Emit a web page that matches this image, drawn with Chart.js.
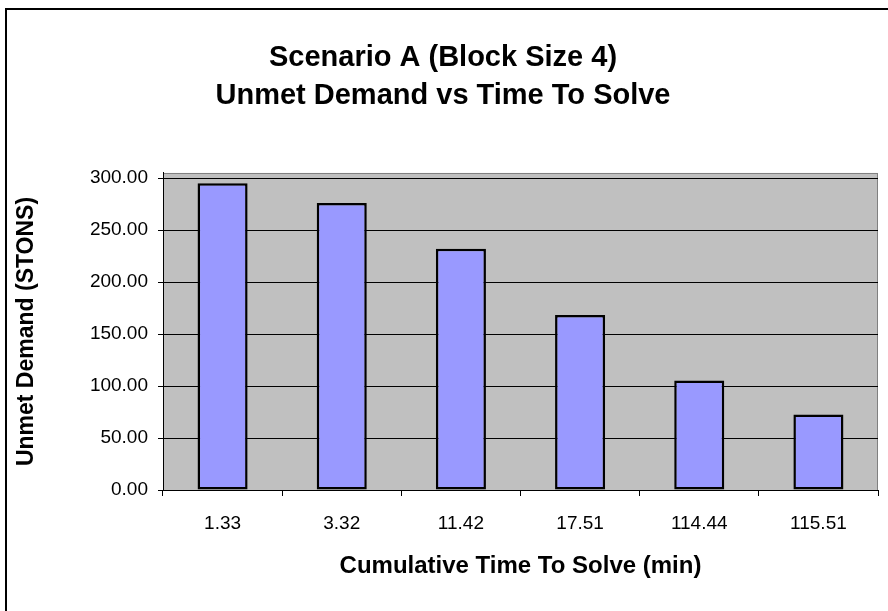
<!DOCTYPE html>
<html lang="en">
<head>
    <meta charset="utf-8" />
    <title>Scenario A (Block Size 4)</title>
    <style>
        html, body {
            margin: 0;
            padding: 0;
            background: #fff;
            overflow: hidden;
        }

        .frame {
            position: absolute;
            left: 5px;
            top: 8px;
            width: 1000px;
            height: 1000px;
            border: 2px solid #000;
            pointer-events: none;
        }

        #mychart {
            position: absolute;
            left: 0;
            top: 0;
        }
    </style>
</head>
<body>
<canvas id="mychart" width="888" height="611"></canvas>
<div class="frame"></div>

<script src="https://cdn.jsdelivr.net/npm/chart.js@4.4.1/dist/chart.umd.min.js"></script>
<script>
    // time to solve (min) on the x axis
    const times = ['1.33', '3.32', '11.42', '17.51', '114.44', '115.51'];
    // unmet demand (STONS)
    const unmet = [295.2, 276.0, 232.2, 168.4, 105.4, 72.7];
    const yTicks = [0, 50, 100, 150, 200, 250, 300];

    const FONT = "'Liberation Sans', Arial, sans-serif";

    // grey plot area like the excel chart
    const plotArea = {
        id: 'plotArea',
        beforeDraw(chart) {
            const { ctx, chartArea: a } = chart;
            ctx.save();
            ctx.fillStyle = '#c0c0c0';
            ctx.fillRect(a.left, a.top, a.right - a.left, a.bottom - a.top);
            ctx.strokeStyle = '#808080';
            ctx.lineWidth = 1;
            ctx.strokeRect(a.left + 0.5, a.top + 0.5, a.right - a.left - 1, a.bottom - a.top);
            ctx.restore();
        }
    };

    new Chart(document.getElementById('mychart'), {
        type: 'bar',
        data: {
            labels: times,
            datasets: [{
                label: 'Unmet Demand',
                data: unmet,
                backgroundColor: '#9999ff',
                borderColor: '#000',
                borderWidth: 2.5,
                borderSkipped: false,
                barPercentage: 0.42,
                categoryPercentage: 1.0,
            }],
        },
        plugins: [plotArea],
        options: {
            responsive: false,
            animation: false,
            devicePixelRatio: 1,
            layout: {
                padding: { left: 8, right: 10, top: 8, bottom: 0 }
            },
            plugins: {
                legend: { display: false },
                tooltip: { enabled: false },
                title: {
                    display: true,
                    text: ['Scenario A (Block Size 4)', 'Unmet Demand vs Time To Solve'],
                    color: '#000',
                    font: { family: FONT, size: 29, weight: 'bold', lineHeight: 1.31 },
                    padding: { top: 31, bottom: 58 },
                },
            },
            scales: {
                x: {
                    grid: {
                        drawOnChartArea: false,
                        drawTicks: true,
                        tickLength: 6,
                        tickColor: '#000',
                        offset: true,
                    },
                    border: { display: true, color: '#000', width: 1 },
                    ticks: {
                        color: '#000',
                        padding: 16,
                        maxRotation: 0,
                        font: { family: FONT, size: 19 },
                    },
                    title: {
                        display: true,
                        text: 'Cumulative Time To Solve (min)',
                        color: '#000',
                        font: { family: FONT, size: 24, weight: 'bold' },
                        padding: { top: 0, bottom: 30 },
                    },
                    afterFit(scale) {
                        scale.height = 121;
                    },
                },
                y: {
                    min: 0,
                    max: 305,
                    afterBuildTicks(scale) {
                        scale.ticks = yTicks.map(v => ({ value: v }));
                    },
                    grid: {
                        color: '#000',
                        lineWidth: 1,
                        tickLength: 5,
                        tickColor: '#000',
                    },
                    border: { display: true, color: '#000', width: 1 },
                    ticks: {
                        color: '#000',
                        padding: 10,
                        font: { family: FONT, size: 19 },
                        callback: v => Number(v).toFixed(2),
                    },
                    title: {
                        display: true,
                        text: 'Unmet Demand (STONS)',
                        color: '#000',
                        font: { family: FONT, size: 23, weight: 'bold' },
                        padding: { top: 5, bottom: 0 },
                    },
                    afterFit(scale) {
                        scale.width = 155;
                    },
                },
            },
        },
    });
</script>
</body>
</html>
